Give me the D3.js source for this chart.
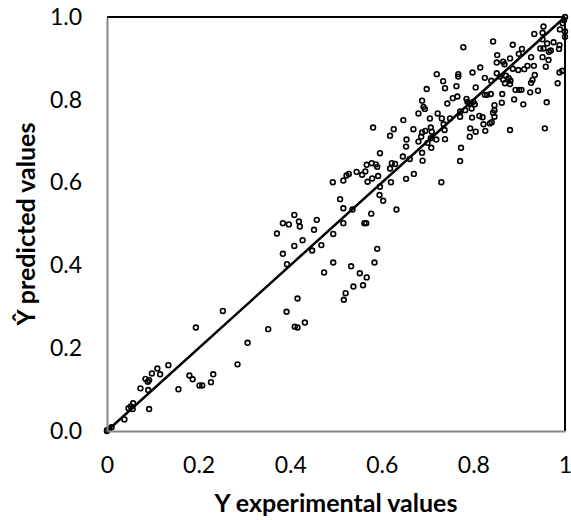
<!DOCTYPE html>
<html>
<head>
<meta charset="utf-8">
<script src="https://cdn.jsdelivr.net/npm/d3@7"></script>
<style>
  body { margin: 0; background: #fff; }
  svg { display: block; font-family: Lato, "Open Sans", sans-serif; }
</style>
</head>
<body>
<div id="graf"></div>
<script>
// Data
const expX = [
  1.000, 0.998, 0.995, 0.953, 0.933, 0.951, 0.989, 1.000, 1.000, 0.778,
  0.843, 0.886, 0.906, 0.951, 0.961, 0.975, 0.988, 0.987, 0.946, 0.953,
  0.965, 0.969, 0.852, 0.880, 0.899, 0.926, 0.951, 0.964, 0.851, 0.865,
  0.868, 0.886, 0.898, 0.911, 0.918, 0.932, 0.958, 0.815, 0.798, 0.767,
  0.767, 0.720, 0.734, 0.738, 0.698, 0.825, 0.839, 0.851, 0.858, 0.865,
  0.871, 0.877, 0.881, 0.869, 0.880, 0.892, 0.900, 0.905, 0.924, 0.934,
  0.929, 0.926, 0.941, 0.960, 0.988, 0.994, 0.984, 0.763, 0.805, 0.825,
  0.830, 0.838, 0.863, 0.862, 0.889, 0.909, 0.688, 0.755, 0.765, 0.743,
  0.785, 0.787, 0.791, 0.800, 0.803, 0.796, 0.782, 0.771, 0.771, 0.797,
  0.813, 0.820, 0.843, 0.846, 0.846, 0.846, 0.840, 0.836, 0.822, 0.826,
  0.805, 0.793, 0.792, 0.880, 0.956, 0.691, 0.680, 0.694, 0.705, 0.722,
  0.731, 0.749, 0.735, 0.737, 0.738, 0.647, 0.618, 0.626, 0.669, 0.688,
  0.686, 0.695, 0.707, 0.709, 0.707, 0.719, 0.700, 0.680, 0.654, 0.653,
  0.581, 0.596, 0.646, 0.622, 0.629, 0.618, 0.688, 0.689, 0.661, 0.708,
  0.773, 0.771, 0.578, 0.587, 0.567, 0.557, 0.564, 0.545, 0.528, 0.523,
  0.516, 0.493, 0.569, 0.579, 0.592, 0.590, 0.620, 0.653, 0.670, 0.730,
  0.596, 0.595, 0.603, 0.509, 0.516, 0.536, 0.577, 0.562, 0.566, 0.516,
  0.494, 0.632, 0.590, 0.584, 0.494, 0.533, 0.552, 0.567, 0.559, 0.538,
  0.521, 0.517,
  0.371, 0.384, 0.397, 0.409, 0.419, 0.421, 0.458, 0.452, 0.427, 0.409,
  0.384, 0.393, 0.448, 0.468, 0.474, 0.416, 0.392,
  0.352, 0.410, 0.416, 0.432,
  0.253, 0.194, 0.307, 0.285, 0.134, 0.110, 0.116, 0.098, 0.084, 0.089,
  0.092, 0.073, 0.090, 0.180, 0.187, 0.202, 0.208, 0.156, 0.227, 0.232,
  0.057, 0.052, 0.047, 0.056, 0.092, 0.038, 0.010, 0.000, 0.000, 0.004
]
const predY = [
  1.000, 0.992, 0.985, 0.977, 0.959, 0.962, 0.970, 0.965, 0.952, 0.927,
  0.941, 0.933, 0.923, 0.946, 0.936, 0.939, 0.932, 0.923, 0.924, 0.924,
  0.916, 0.919, 0.908, 0.900, 0.911, 0.903, 0.903, 0.896, 0.890, 0.892,
  0.886, 0.875, 0.872, 0.874, 0.882, 0.882, 0.880, 0.878, 0.866, 0.862,
  0.856, 0.862, 0.845, 0.828, 0.826, 0.853, 0.846, 0.864, 0.856, 0.849,
  0.858, 0.852, 0.846, 0.840, 0.838, 0.824, 0.824, 0.824, 0.818, 0.860,
  0.848, 0.841, 0.822, 0.794, 0.866, 0.870, 0.840, 0.833, 0.830, 0.812,
  0.812, 0.814, 0.814, 0.793, 0.801, 0.789, 0.798, 0.804, 0.808, 0.791,
  0.802, 0.795, 0.791, 0.795, 0.789, 0.779, 0.775, 0.772, 0.759, 0.757,
  0.761, 0.758, 0.769, 0.775, 0.787, 0.759, 0.746, 0.743, 0.741, 0.725,
  0.723, 0.731, 0.711, 0.727, 0.731, 0.783, 0.767, 0.778, 0.755, 0.767,
  0.755, 0.755, 0.741, 0.727, 0.705, 0.751, 0.713, 0.729, 0.729, 0.721,
  0.711, 0.725, 0.733, 0.723, 0.707, 0.704, 0.696, 0.699, 0.704, 0.687,
  0.733, 0.671, 0.663, 0.647, 0.645, 0.634, 0.672, 0.653, 0.657, 0.684,
  0.684, 0.652, 0.647, 0.644, 0.643, 0.619, 0.627, 0.626, 0.621, 0.617,
  0.605, 0.601, 0.602, 0.610, 0.616, 0.638, 0.601, 0.609, 0.621, 0.601,
  0.590, 0.570, 0.556, 0.560, 0.538, 0.535, 0.525, 0.502, 0.502, 0.502,
  0.476, 0.535, 0.440, 0.407, 0.407, 0.398, 0.381, 0.371, 0.352, 0.349,
  0.333, 0.317,
  0.477, 0.502, 0.499, 0.522, 0.506, 0.494, 0.510, 0.486, 0.461, 0.447,
  0.428, 0.403, 0.436, 0.449, 0.383, 0.320, 0.288,
  0.246, 0.252, 0.250, 0.262,
  0.290, 0.250, 0.213, 0.161, 0.159, 0.151, 0.137, 0.139, 0.126, 0.119,
  0.123, 0.103, 0.099, 0.134, 0.125, 0.110, 0.110, 0.101, 0.118, 0.137,
  0.067, 0.059, 0.055, 0.053, 0.053, 0.028, 0.009, 0.002, 0.000, 0.004
]
const fitLine = [0, 1]
const xTicks = [0, 0.2, 0.4, 0.6, 0.8, 1]
const xTickLabels = ["0", "0.2", "0.4", "0.6", "0.8", "1"]
const yTicks = [0, 0.2, 0.4, 0.6, 0.8, 1]
const yTickLabels = ["0.0", "0.2", "0.4", "0.6", "0.8", "1.0"]

const anchoTotal = 571
const altoTotal = 520
const margins = { left: 107, top: 17, right: 6, bottom: 89 }
const ancho = anchoTotal - margins.left - margins.right
const alto = altoTotal - margins.top - margins.bottom

const svg = d3.select("#graf")
  .append("svg")
  .attr("width", anchoTotal)
  .attr("height", altoTotal)

const g = svg.append("g")
  .attr("transform", `translate(${margins.left}, ${margins.top})`)

// Escaladores
const x = d3.scaleLinear().domain([0, 1]).range([0, ancho])
const y = d3.scaleLinear().domain([0, 1]).range([alto, 0])

// points
const puntos = expX.map((d, i) => ({ x: d, y: predY[i] }))
g.selectAll("circle.pt")
  .data(puntos)
  .join("circle")
  .attr("class", "pt")
  .attr("cx", d => x(d.x))
  .attr("cy", d => y(d.y))
  .attr("r", 2.4)
  .attr("fill", "none")
  .attr("stroke", "#000")
  .attr("stroke-width", 1.6)

// 1:1 line
g.append("line")
  .attr("x1", x(fitLine[0])).attr("y1", y(fitLine[0]))
  .attr("x2", x(fitLine[1])).attr("y2", y(fitLine[1]))
  .attr("stroke", "#000")
  .attr("stroke-width", 2.5)

// frame: top & right black, axes gray
g.append("line").attr("x1", 0).attr("x2", ancho).attr("y1", 0).attr("y2", 0)
  .attr("stroke", "#000").attr("stroke-width", 2)
g.append("line").attr("x1", ancho).attr("x2", ancho).attr("y1", 0).attr("y2", alto)
  .attr("stroke", "#000").attr("stroke-width", 2)

const xAxis = g.append("g")
  .attr("transform", `translate(0, ${alto})`)
  .call(d3.axisBottom(x).tickValues(xTicks).tickSize(0).tickPadding(26)
    .tickFormat((d, i) => xTickLabels[i]))
const yAxis = g.append("g")
  .call(d3.axisLeft(y).tickValues(yTicks).tickSize(0).tickPadding(25)
    .tickFormat((d, i) => yTickLabels[i]))

;[xAxis, yAxis].forEach(a => {
  a.select(".domain").attr("stroke", "#888").attr("stroke-width", 2)
  a.selectAll("text").attr("font-size", 23).attr("fill", "#000")
    .attr("font-family", "Lato, 'Open Sans', sans-serif")
})

// titles
svg.append("text")
  .attr("x", margins.left + ancho / 2)
  .attr("y", 512)
  .attr("text-anchor", "middle")
  .attr("font-size", 25)
  .attr("font-weight", "bold")
  .text("Y experimental values")

svg.append("text")
  .attr("transform", `translate(35, ${margins.top + alto / 2}) rotate(-90)`)
  .attr("text-anchor", "middle")
  .attr("font-size", 25)
  .attr("font-weight", "bold")
  .text("Ŷ predicted values")
</script>
</body>
</html>
